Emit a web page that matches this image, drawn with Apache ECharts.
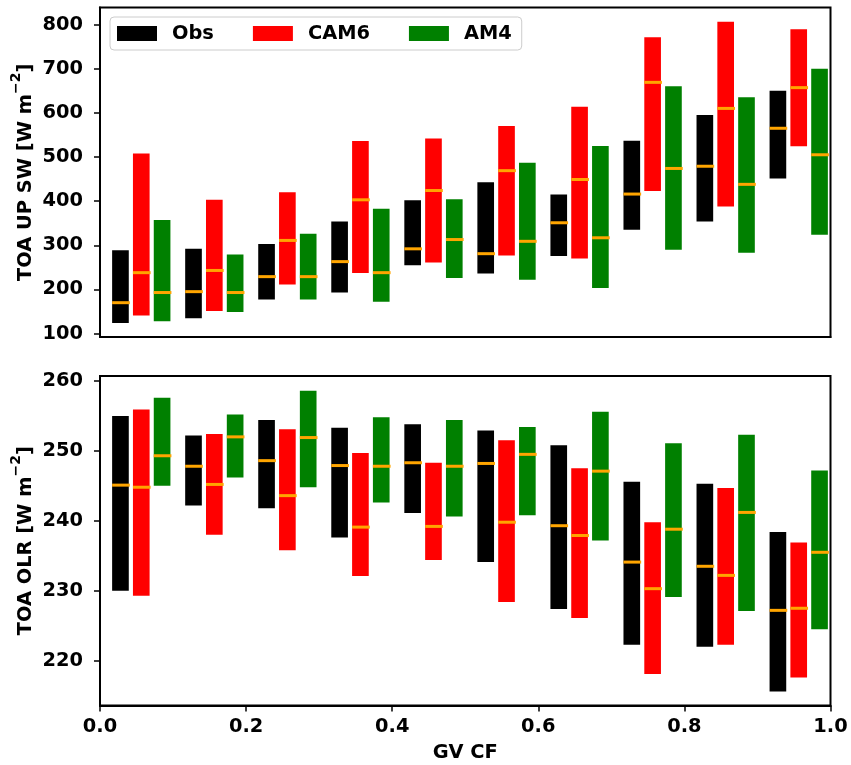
<!DOCTYPE html>
<html>
<head>
<meta charset="utf-8">
<script src="https://cdn.jsdelivr.net/npm/echarts@6/dist/echarts.min.js"></script>
<style>
  html, body { margin: 0; padding: 0; background: #ffffff; }
  #chart { width: 851px; height: 765px; }
</style>
</head>
<body>
<div id="chart"></div>
<script>
// GV cloud-fraction bins (lower edge of each 0.1-wide bin)
const binStarts = [0.0, 0.1, 0.2, 0.3, 0.4, 0.5, 0.6, 0.7, 0.8, 0.9];
const xTicks = [0.0, 0.2, 0.4, 0.6, 0.8, 1.0];

// TOA upwelling shortwave [W m-2]: range (low/high) and median per bin
const swObsLow  = [124, 135, 177, 193, 255, 236, 276, 335, 354, 451];
const swObsHigh = [289, 292, 303, 354, 402, 443, 415, 537, 595, 650];
const swObsMed  = [170, 195, 229, 263, 292, 281, 351, 416, 479, 565];
const swCamLow  = [141, 151, 211, 237, 261, 277, 270, 423, 388, 524];
const swCamHigh = [508, 403, 420, 536, 542, 570, 614, 771, 806, 789];
const swCamMed  = [238, 243, 311, 403, 424, 469, 449, 669, 610, 657];
const swAm4Low  = [128, 149, 177, 172, 226, 222, 203, 290, 283, 324];
const swAm4High = [357, 279, 326, 383, 404, 487, 525, 660, 635, 700];
const swAm4Med  = [193, 193, 229, 238, 313, 309, 317, 474, 438, 505];
const swTicks   = [100, 200, 300, 400, 500, 600, 700, 800];

// TOA outgoing longwave radiation [W m-2]
const olrObsLow  = [230.0, 242.2, 241.8, 237.6, 241.1, 234.1, 227.4, 222.3, 222.0, 215.6];
const olrObsHigh = [255.0, 252.2, 254.4, 253.3, 253.8, 252.9, 250.8, 245.6, 245.3, 238.4];
const olrObsMed  = [245.1, 247.8, 248.6, 247.9, 248.3, 248.2, 239.3, 234.1, 233.5, 227.2];
const olrCamLow  = [229.3, 238.0, 235.8, 232.1, 234.4, 228.4, 226.1, 218.1, 222.3, 217.6];
const olrCamHigh = [255.9, 252.4, 253.1, 249.7, 248.3, 251.5, 247.5, 239.8, 244.7, 236.9];
const olrCamMed  = [244.8, 245.2, 243.6, 239.1, 239.2, 239.8, 237.9, 230.3, 232.2, 227.5];
const olrAm4Low  = [245.0, 246.2, 244.8, 242.6, 240.6, 240.8, 237.2, 229.1, 227.1, 224.5];
const olrAm4High = [257.6, 255.2, 258.6, 254.8, 254.4, 253.4, 255.6, 251.1, 252.3, 247.2];
const olrAm4Med  = [249.3, 252.0, 251.9, 247.8, 247.8, 249.5, 247.1, 238.8, 241.2, 235.5];
const olrTicks   = [220, 230, 240, 250, 260];

const seriesNames = ['Obs', 'CAM6', 'AM4'];

// drawing constants
const FONT = 'DejaVu Sans';
const FS = 19.4;
const COLORS = { Obs: '#000000', CAM6: '#ff0000', AM4: '#008000' };
const MEDIAN_COLOR = '#ffa500';
const OFFSETS = { Obs: 0.028, CAM6: 0.0565, AM4: 0.085 };
const BAR_W = 0.0228;

function makeData(low, high, med, name) {
  return binStarts.map((b, i) => [b + OFFSETS[name], low[i], high[i], med[i]]);
}

function renderBox(color) {
  return function (params, api) {
    const x = api.value(0);
    const lo = api.coord([x, api.value(1)]);
    const hi = api.coord([x, api.value(2)]);
    const md = api.coord([x, api.value(3)]);
    const w = api.size([BAR_W, 0])[0];
    return {
      type: 'group',
      children: [
        { type: 'rect', shape: { x: lo[0] - w / 2, y: hi[1], width: w, height: lo[1] - hi[1] },
          style: { fill: color } },
        { type: 'rect', shape: { x: md[0] - w / 2, y: md[1] - 1.5, width: w + 1, height: 3 },
          style: { fill: MEDIAN_COLOR } }
      ]
    };
  };
}

function boxSeries(name, idx, low, high, med) {
  return {
    name: name,
    type: 'custom',
    xAxisIndex: idx,
    yAxisIndex: idx,
    itemStyle: { color: COLORS[name] },
    renderItem: renderBox(COLORS[name]),
    encode: { x: 0, y: [1, 2, 3] },
    data: makeData(low, high, med, name)
  };
}

const labelStyle = { fontFamily: FONT, fontWeight: 'bold', fontSize: FS, color: '#000' };
const axisLineStyle = { show: true, onZero: false, lineStyle: { color: '#000', width: 2 } };

function yName(main) {
  return '{t|' + main + ' [W m}{s|\u22122}{t|]}';
}
const yNameStyle = {
  rich: {
    t: { fontFamily: FONT, fontWeight: 'bold', fontSize: FS, color: '#000', lineHeight: 26, verticalAlign: 'bottom' },
    s: { fontFamily: FONT, fontWeight: 'bold', fontSize: 14, color: '#000', lineHeight: 26, verticalAlign: 'top' }
  }
};

const chart = echarts.init(document.getElementById('chart'), null, { renderer: 'canvas' });

chart.setOption({
  backgroundColor: '#ffffff',
  animation: false,
  legend: {
    data: seriesNames.map(n => ({ name: n, icon: 'rect' })),
    left: 110,
    top: 17,
    itemWidth: 40,
    itemHeight: 15,
    itemGap: 39,
    padding: [7, 10, 7, 7],
    borderColor: '#cccccc',
    borderWidth: 1,
    borderRadius: 4,
    backgroundColor: '#ffffff',
    textStyle: { fontFamily: FONT, fontWeight: 'bold', fontSize: FS, color: '#000', padding: [0, 0, 0, 10] }
  },
  grid: [
    { left: 100, right: 20.5, top: 7.5, height: 329.5, outerBoundsMode: 'none', containLabel: false,
      show: true, borderColor: '#000', borderWidth: 2 },
    { left: 100, right: 20.5, top: 376, height: 329.5, outerBoundsMode: 'none', containLabel: false,
      show: true, borderColor: '#000', borderWidth: 2 }
  ],
  xAxis: [
    { type: 'value', gridIndex: 0, min: 0, max: 1, interval: 0.2,
      axisLine: axisLineStyle, axisTick: { show: false }, axisLabel: { show: false }, splitLine: { show: false } },
    { type: 'value', gridIndex: 1, min: 0, max: 1, interval: 0.2,
      axisLine: axisLineStyle,
      axisTick: { show: true, length: 6, customValues: xTicks, lineStyle: { color: '#000', width: 1.5 } },
      axisLabel: Object.assign({ margin: 12, customValues: xTicks, formatter: v => v.toFixed(1) }, labelStyle),
      splitLine: { show: false },
      name: 'GV CF', nameLocation: 'middle', nameGap: 38, nameMoveOverlap: false, nameTextStyle: labelStyle }
  ],
  yAxis: [
    { type: 'value', gridIndex: 0, min: 92.3, max: 838.5,
      axisLine: axisLineStyle,
      axisTick: { show: true, length: 6, customValues: swTicks, lineStyle: { color: '#000', width: 1.5 } },
      axisLabel: Object.assign({ margin: 17, customValues: swTicks }, labelStyle),
      splitLine: { show: false },
      name: yName('TOA UP SW'), nameLocation: 'middle', nameRotate: 90, nameGap: 65, nameMoveOverlap: false,
      nameTextStyle: yNameStyle },
    { type: 'value', gridIndex: 1, min: 213.6, max: 260.7,
      axisLine: axisLineStyle,
      axisTick: { show: true, length: 6, customValues: olrTicks, lineStyle: { color: '#000', width: 1.5 } },
      axisLabel: Object.assign({ margin: 17, customValues: olrTicks }, labelStyle),
      splitLine: { show: false },
      name: yName('TOA OLR'), nameLocation: 'middle', nameRotate: 90, nameGap: 65, nameMoveOverlap: false,
      nameTextStyle: yNameStyle }
  ],
  series: [
    boxSeries('Obs', 0, swObsLow, swObsHigh, swObsMed),
    boxSeries('CAM6', 0, swCamLow, swCamHigh, swCamMed),
    boxSeries('AM4', 0, swAm4Low, swAm4High, swAm4Med),
    boxSeries('Obs', 1, olrObsLow, olrObsHigh, olrObsMed),
    boxSeries('CAM6', 1, olrCamLow, olrCamHigh, olrCamMed),
    boxSeries('AM4', 1, olrAm4Low, olrAm4High, olrAm4Med)
  ]
});
</script>
</body>
</html>
